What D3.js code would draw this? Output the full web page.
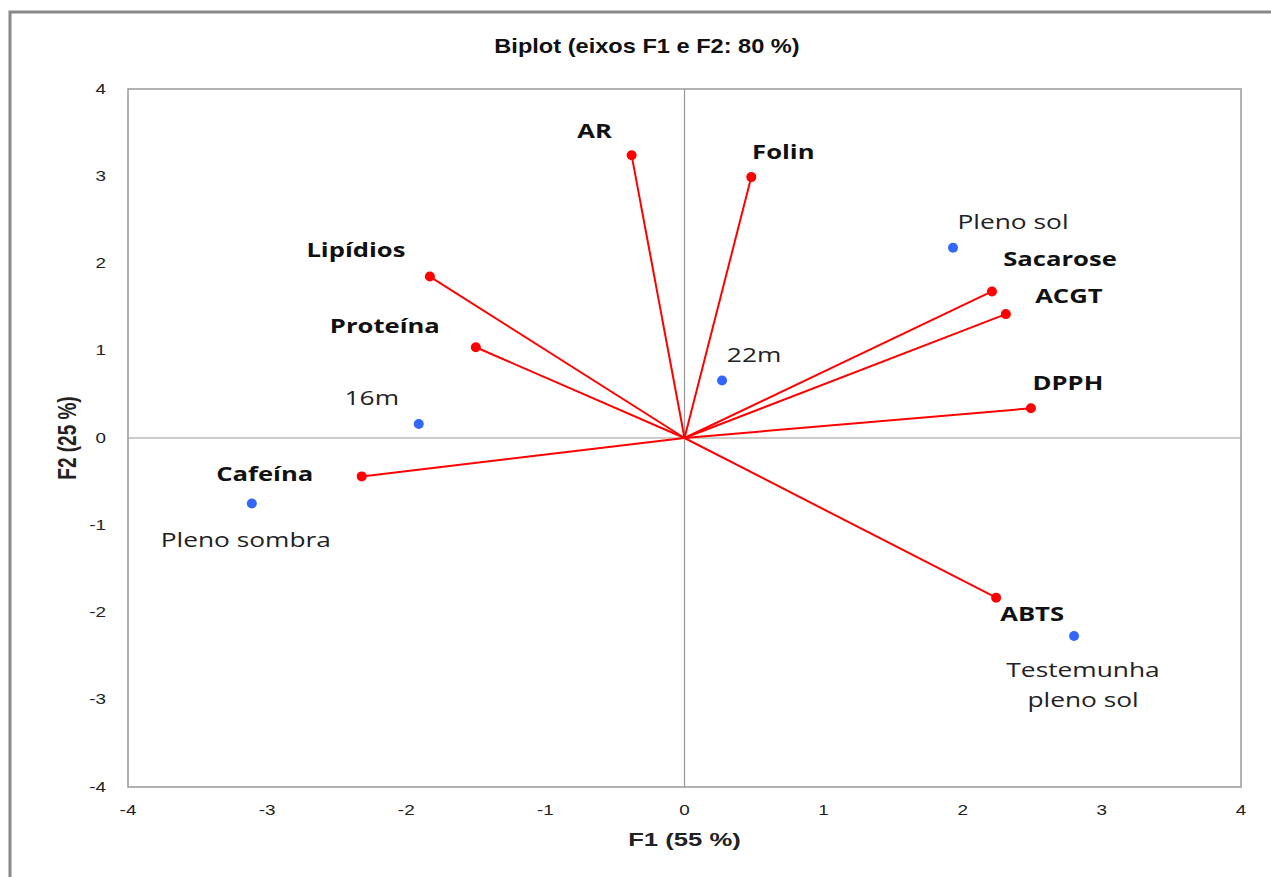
<!DOCTYPE html>
<html>
<head>
<meta charset="utf-8">
<script src="https://cdn.jsdelivr.net/npm/d3@7"></script>
<style>
  body { margin: 0; background: #fff; }
  svg { display: block; }
</style>
</head>
<body>
<svg id="chart"></svg>
<script>
// variables (red vectors)
const varNames = ['AR', 'Folin', 'Lipídios', 'Proteína', 'Cafeína', 'Sacarose', 'ACGT', 'DPPH', 'ABTS']
const varF1 = [-0.38, 0.48, -1.83, -1.50, -2.32, 2.21, 2.31, 2.49, 2.24]
const varF2 = [3.24, 2.99, 1.85, 1.04, -0.44, 1.68, 1.42, 0.34, -1.83]

// observations (blue points)
const obsNames = ['Pleno sol', '22m', '16m', 'Pleno sombra', 'Testemunha\npleno sol']
const obsF1 = [1.93, 0.27, -1.91, -3.11, 2.80]
const obsF2 = [2.18, 0.66, 0.16, -0.75, -2.27]

const ticks = [-4, -3, -2, -1, 0, 1, 2, 3, 4]

// label offsets in px (layout only)
const varLabelOffset = [[-37, -24], [32, -25], [-74, -27], [-91, -21], [-97, -3], [68, -33], [63, -18], [37, -25], [36, 16]]
const obsLabelOffset = [[60, -26], [32, -26], [-47, -27], [-6, 36], [9, 33]]

// the original picture is stretched sideways
const stretch = 1.35

const width = 1271, height = 877
const svg = d3.select('#chart').attr('width', width).attr('height', height)

// outer frame
svg.append('rect')
  .attr('x', 10).attr('y', 12)
  .attr('width', width + 20).attr('height', height + 20)
  .attr('fill', 'none').attr('stroke', '#888').attr('stroke-width', 3)

const x = d3.scaleLinear().domain([-4, 4]).range([128, 1241])
const y = d3.scaleLinear().domain([-4, 4]).range([787, 89])

// text placed at (px, py) and widened horizontally
function wideText (g, px, py, str, rot, sx) {
  return g.append('text')
    .attr('transform', `translate(${px},${py}) scale(${sx || stretch},1)` + (rot ? ` rotate(${rot})` : ''))
    .attr('text-anchor', 'middle')
    .attr('dominant-baseline', 'central')
    .text(str)
}

wideText(svg, 647, 46, 'Biplot (eixos F1 e F2: 80 %)', 0, 1.18)
  .style('font-family', '"Liberation Sans Narrow", "Liberation Sans", Arial, sans-serif')
  .style('font-weight', 'bold').style('font-size', '20px').style('fill', '#111')

// tick labels
const tickFont = '"Liberation Sans", Arial, sans-serif'
svg.selectAll('.xt').data(ticks).enter().append('text')
  .attr('transform', d => `translate(${x(d)},${y(-4) + 23}) scale(${stretch},1)`)
  .attr('text-anchor', 'middle').attr('dominant-baseline', 'central')
  .style('font-family', tickFont).style('font-size', '14px').style('fill', '#222')
  .text(d => String(d))
svg.selectAll('.yt').data(ticks).enter().append('text')
  .attr('transform', d => `translate(${x(-4) - 22},${y(d)}) scale(${stretch},1)`)
  .attr('text-anchor', 'end').attr('dominant-baseline', 'central')
  .style('font-family', tickFont).style('font-size', '14px').style('fill', '#222')
  .text(d => String(d))

// plot frame and zero lines
svg.append('rect')
  .attr('x', x(-4)).attr('y', y(4))
  .attr('width', x(4) - x(-4)).attr('height', y(-4) - y(4))
  .attr('fill', 'none').attr('stroke', '#999').attr('stroke-width', 1.5)
svg.append('line')
  .attr('x1', x(-4)).attr('x2', x(4)).attr('y1', y(0)).attr('y2', y(0))
  .attr('stroke', '#999').attr('stroke-width', 1.2)
svg.append('line')
  .attr('x1', x(0)).attr('x2', x(0)).attr('y1', y(4)).attr('y2', y(-4))
  .attr('stroke', '#999').attr('stroke-width', 1.2)

// axis titles
wideText(svg, x(0), 840, 'F1 (55 %)')
  .style('font-family', tickFont)
  .style('font-weight', 'bold').style('font-size', '19px').style('fill', '#222')
wideText(svg, 67, y(0), 'F2 (25 %)', -90)
  .style('font-family', tickFont)
  .style('font-weight', 'bold').style('font-size', '19px').style('fill', '#222')

// vectors
const vars = varNames.map((n, i) => ({ name: n, f1: varF1[i], f2: varF2[i], off: varLabelOffset[i] }))
svg.selectAll('.vec').data(vars).enter().append('line')
  .attr('x1', x(0)).attr('y1', y(0))
  .attr('x2', d => x(d.f1)).attr('y2', d => y(d.f2))
  .attr('stroke', '#f00').attr('stroke-width', 2)
svg.selectAll('.vdot').data(vars).enter().append('circle')
  .attr('cx', d => x(d.f1)).attr('cy', d => y(d.f2)).attr('r', 5)
  .attr('fill', '#f00')
vars.forEach(d => {
  wideText(svg, x(d.f1) + d.off[0], y(d.f2) + d.off[1], d.name)
    .style('font-family', '"Open Sans", sans-serif')
    .style('font-weight', 'bold').style('font-size', '19px').style('fill', '#111')
})

// observations
const obs = obsNames.map((n, i) => ({ name: n, f1: obsF1[i], f2: obsF2[i], off: obsLabelOffset[i] }))
svg.selectAll('.odot').data(obs).enter().append('circle')
  .attr('cx', d => x(d.f1)).attr('cy', d => y(d.f2)).attr('r', 5)
  .attr('fill', '#3366ff')
obs.forEach(d => {
  d.name.split('\n').forEach((line, j) => {
    wideText(svg, x(d.f1) + d.off[0], y(d.f2) + d.off[1] + j * 30, line)
      .style('font-family', '"Open Sans", sans-serif')
      .style('font-size', '19.5px').style('fill', '#222')
  })
})
</script>
</body>
</html>
